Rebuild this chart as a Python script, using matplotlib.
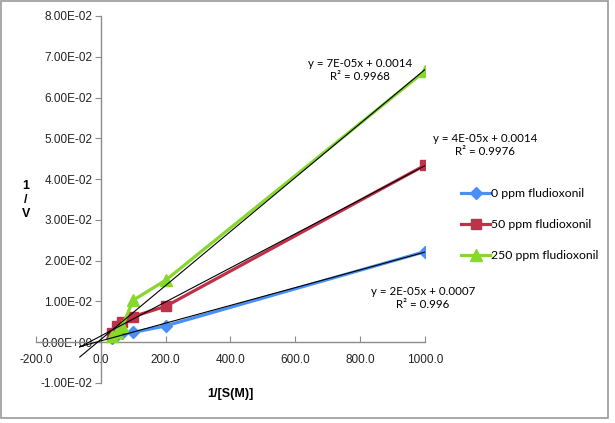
"""
Lineweaver-Burk plot, fludioxonil inhibition.
Produces: out.png
"""
import numpy as np
import matplotlib.pyplot as plt
from matplotlib.patches import Rectangle
from matplotlib.ticker import FuncFormatter, MultipleLocator

# ── Data ──────────────────────────────────────────────────────────────────────
inv_s = [33.3, 50.0, 66.7, 100.0, 200.0, 1000.0]          # 1/[S(M)]

inv_v_0ppm   = [0.0010, 0.0017, 0.0022, 0.0024, 0.0040, 0.0222]
inv_v_50ppm  = [0.0022, 0.0040, 0.0050, 0.0063, 0.0088, 0.0434]
inv_v_250ppm = [0.0015, 0.0025, 0.0040, 0.0103, 0.0152, 0.0665]

series_labels = ["0 ppm fludioxonil", "50 ppm fludioxonil", "250 ppm fludioxonil"]
equations = [
    "y = 2E-05x + 0.0007\nR² = 0.996",
    "y = 4E-05x + 0.0014\nR² = 0.9976",
    "y = 7E-05x + 0.0014\nR² = 0.9968",
]
trend_start = -65.0   # backward forecast of the trendlines

C_BLUE  = "#4a8ff5"
C_RED   = "#bf3049"
C_GREEN = "#86d82c"
C_AXIS  = "#8c8c8c"

TICK_FONT = "Liberation Sans"
TEXT_FONT = "Lato"

fig = plt.figure(figsize=(6.15, 4.23), dpi=100)
fig.patch.set_facecolor("white")
ax = fig.add_axes([0.0585, 0.0946, 0.6325, 0.8676])

# ── Series + linear trendlines ────────────────────────────────────────────────
x = np.array(inv_s)
styles = [
    (inv_v_0ppm,   C_BLUE,  "D", 6.0),
    (inv_v_50ppm,  C_RED,   "s", 7.5),
    (inv_v_250ppm, C_GREEN, "^", 8.5),
]
for (yv, col, mk, ms), lab in zip(styles, series_labels):
    ax.plot(x, yv, color=col, linewidth=2.3, marker=mk, markersize=ms,
            markeredgecolor=col, label=lab, zorder=3)

for yv, col, mk, ms in styles:
    k, b = np.polyfit(x, yv, 1)
    xt = np.array([trend_start, x.max()])
    ax.plot(xt, k * xt + b, color="black", linewidth=0.8, zorder=4)

# ── Axes ──────────────────────────────────────────────────────────────────────
ax.set_xlim(-200, 1000)
ax.set_ylim(-0.01, 0.08)
ax.xaxis.set_major_locator(MultipleLocator(200))
ax.yaxis.set_major_locator(MultipleLocator(0.01))
ax.xaxis.set_major_formatter(FuncFormatter(lambda v, p: f"{v:.1f}"))
ax.yaxis.set_major_formatter(FuncFormatter(lambda v, p: f"{v:.2E}"))

for side in ["top", "right"]:
    ax.spines[side].set_visible(False)
ax.spines["left"].set_position(("data", 0))
ax.spines["bottom"].set_position(("data", 0))
for side in ["left", "bottom"]:
    ax.spines[side].set_color(C_AXIS)
    ax.spines[side].set_linewidth(1.0)

ax.tick_params(axis="x", direction="in", length=4, color=C_AXIS, pad=8.5,
               labelsize=8.5)
ax.tick_params(axis="y", direction="out", length=4, color=C_AXIS, pad=2,
               labelsize=8.5)
for t in ax.get_xticklabels() + ax.get_yticklabels():
    t.set_fontfamily(TICK_FONT)
    t.set_color("#222222")
ax.patch.set_alpha(0)

# ── Labels, equations, legend ─────────────────────────────────────────────────
fig.text(26 / 615, 1 - 200 / 423, "1\n/\nV", ha="center", va="center",
         fontsize=9, fontweight="bold", family=TICK_FONT, linespacing=1.25)
fig.text(230 / 615, 1 - 394 / 423, "1/[S(M)]", ha="center", va="center",
         fontsize=9, fontweight="bold", family=TICK_FONT)

eq_pos = [(423, 298), (485, 145), (360, 70)]
for (px, py), eq in zip(eq_pos, equations):
    fig.text(px / 615, 1 - py / 423, eq, ha="center", va="center",
             fontsize=8.3, family=TEXT_FONT, linespacing=1.15)

leg = fig.legend(loc="upper left", bbox_to_anchor=(456 / 615, 1 - 183 / 423),
                 frameon=False, prop={"family": TEXT_FONT, "size": 8.8},
                 handlelength=2.4, handletextpad=0.1, labelspacing=1.65,
                 borderaxespad=0)

# outer chart border
fig.patches.append(Rectangle((0.002, 0.013), 0.986, 0.984, transform=fig.transFigure,
                             fill=False, edgecolor="#9a9a9a", linewidth=1.2))

plt.savefig("out.png", dpi=100, facecolor="white")
